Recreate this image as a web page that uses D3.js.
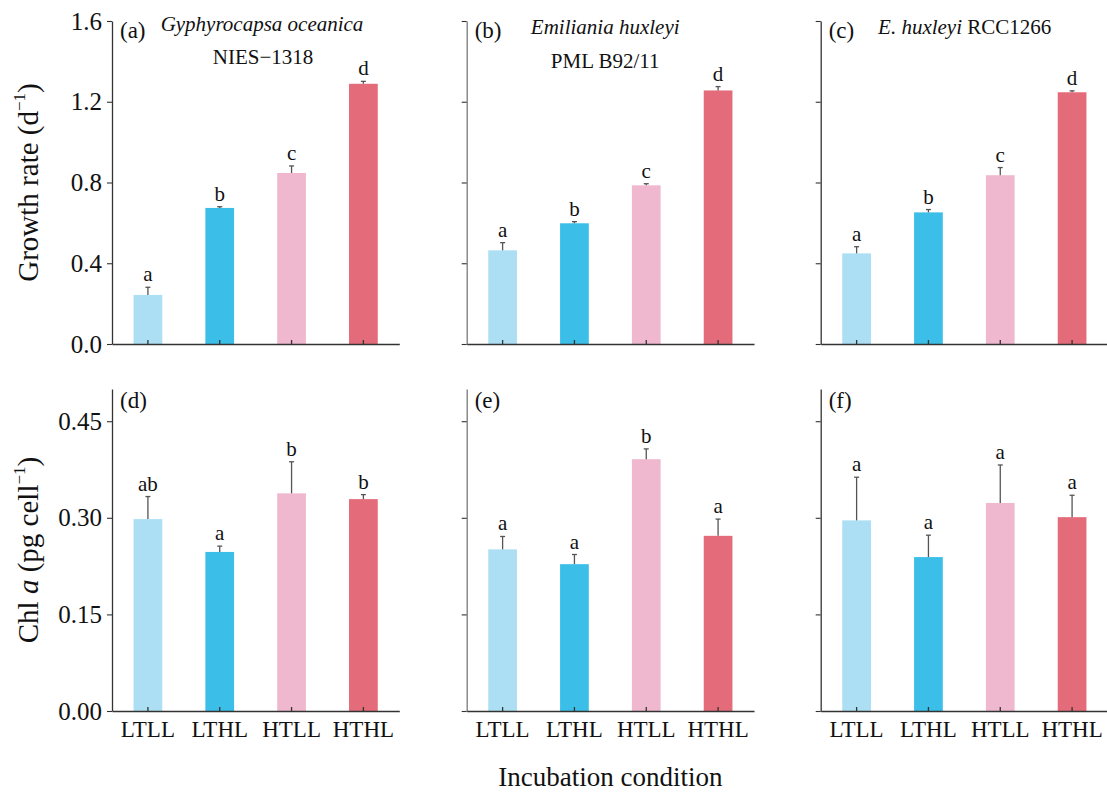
<!DOCTYPE html>
<html>
<head>
<meta charset="utf-8">
<script src="https://cdn.jsdelivr.net/npm/d3@7"></script>
<style>
  body { margin: 0; background: #fff; }
  svg { display: block; font-family: "Liberation Serif", "Times New Roman", serif; }
</style>
</head>
<body>
<div id="chart"></div>
<script>
// treatment order on every x axis
var conditions = ['LTLL', 'LTHL', 'HTLL', 'HTHL'];
var barColors = ['#addff4', '#3bbfe9', '#efb8ce', '#e46c7a'];

// growth rate (d-1), one row per strain
var growthMean = [
  [0.243, 0.674, 0.847, 1.289],
  [0.464, 0.598, 0.786, 1.256],
  [0.449, 0.652, 0.836, 1.247]
];
var growthSD = [
  [0.038, 0.006, 0.035, 0.012],
  [0.038, 0.008, 0.008, 0.019],
  [0.033, 0.014, 0.038, 0.007]
];
var growthLetters = [
  ['a', 'b', 'c', 'd'],
  ['a', 'b', 'c', 'd'],
  ['a', 'b', 'c', 'd']
];

// Chl a (pg cell-1)
var chlMean = [
  [0.298, 0.247, 0.338, 0.329],
  [0.251, 0.228, 0.391, 0.272],
  [0.296, 0.239, 0.323, 0.301]
];
var chlSD = [
  [0.035, 0.009, 0.049, 0.007],
  [0.020, 0.015, 0.016, 0.026],
  [0.067, 0.034, 0.059, 0.034]
];
var chlLetters = [
  ['ab', 'a', 'b', 'b'],
  ['a', 'a', 'b', 'a'],
  ['a', 'a', 'a', 'a']
];

var growthTicks = [0, 0.4, 0.8, 1.2, 1.6];
var chlTicks = [0, 0.15, 0.30, 0.45];

var panelLabels = ['(a)', '(b)', '(c)', '(d)', '(e)', '(f)'];

var width = 1107, height = 794;
var panelLeft = [112, 466.7, 820.7],
    panelWidth = 287.3;
var rows = [
  { top: 21, bottom: 344, max: 1.6, ticks: growthTicks, fmt: d3.format('.1f'),
    mean: growthMean, sd: growthSD, letters: growthLetters, labelY: 38 },
  { top: 389, bottom: 711, max: 0.5, ticks: chlTicks, fmt: d3.format('.2f'),
    mean: chlMean, sd: chlSD, letters: chlLetters, labelY: 408 }
];
// middle column's y axis is drawn lighter in the original
var yAxisColor = ['#333', '#7a7a7a', '#333'];

var svg = d3.select('#chart').append('svg')
  .attr('width', width)
  .attr('height', height);

rows.forEach(function(row, r) {
  var y = d3.scaleLinear().domain([0, row.max]).range([row.bottom, row.top]);

  panelLeft.forEach(function(left, c) {
    var x = d3.scaleBand()
      .domain(conditions)
      .range([left, left + panelWidth])
      .paddingInner(0.6)
      .paddingOuter(0.3);

    var data = conditions.map(function(k, i) {
      return { key: k, mean: row.mean[c][i], sd: row.sd[c][i], letter: row.letters[c][i], color: barColors[i] };
    });

    var g = svg.append('g').attr('class', 'panel');

    g.selectAll('rect.bar')
      .data(data).enter()
      .append('rect').attr('class', 'bar')
      .attr('x', function(d) { return x(d.key); })
      .attr('width', x.bandwidth())
      .attr('y', function(d) { return y(d.mean); })
      .attr('height', function(d) { return y(0) - y(d.mean); })
      .attr('fill', function(d) { return d.color; });

    // upper error bar only
    var err = g.selectAll('g.err')
      .data(data).enter()
      .append('g').attr('class', 'err')
      .attr('stroke', '#555')
      .attr('stroke-width', 1.3);
    err.append('line')
      .attr('x1', function(d) { return x(d.key) + x.bandwidth() / 2; })
      .attr('x2', function(d) { return x(d.key) + x.bandwidth() / 2; })
      .attr('y1', function(d) { return y(d.mean); })
      .attr('y2', function(d) { return y(d.mean + d.sd); });
    err.append('line')
      .attr('x1', function(d) { return x(d.key) + x.bandwidth() / 2 - 2.5; })
      .attr('x2', function(d) { return x(d.key) + x.bandwidth() / 2 + 2.5; })
      .attr('y1', function(d) { return y(d.mean + d.sd); })
      .attr('y2', function(d) { return y(d.mean + d.sd); });

    g.selectAll('text.sig')
      .data(data).enter()
      .append('text').attr('class', 'sig')
      .attr('x', function(d) { return x(d.key) + x.bandwidth() / 2; })
      .attr('y', function(d) { return y(d.mean + d.sd) - 6; })
      .attr('text-anchor', 'middle')
      .attr('font-size', 21)
      .attr('fill', '#111')
      .text(function(d) { return d.letter; });

    // y axis
    var yAxis = g.append('g')
      .attr('transform', 'translate(' + left + ',0)')
      .call(d3.axisLeft(y)
        .tickValues(row.ticks)
        .tickSize(5)
        .tickSizeOuter(0)
        .tickPadding(5)
        .tickFormat(c === 0 ? row.fmt : ''));
    yAxis.select('.domain').attr('stroke', yAxisColor[c]).attr('stroke-width', 1.3);
    yAxis.selectAll('.tick line').attr('stroke', '#333').attr('stroke-width', 1.1);
    yAxis.selectAll('.tick text')
      .attr('font-size', 25)
      .attr('font-family', '"Liberation Serif", "Times New Roman", serif')
      .attr('fill', '#111');

    // x axis, ticks pointing inward
    var xAxis = g.append('g')
      .attr('transform', 'translate(0,' + row.bottom + ')')
      .call(d3.axisBottom(x)
        .tickSize(-4)
        .tickSizeOuter(0)
        .tickPadding(10)
        .tickFormat(r === 1 ? null : ''));
    xAxis.select('.domain').attr('stroke', '#333').attr('stroke-width', 1.5);
    xAxis.selectAll('.tick line').attr('stroke', '#333').attr('stroke-width', 1.3);
    xAxis.selectAll('.tick text')
      .attr('font-size', 23)
      .attr('font-family', '"Liberation Serif", "Times New Roman", serif')
      .attr('fill', '#111');

    g.append('text')
      .attr('x', left + 8)
      .attr('y', row.labelY)
      .attr('font-size', 23)
      .attr('fill', '#111')
      .text(panelLabels[r * 3 + c]);
  });
});

// strain titles on the top row
var t1 = svg.append('g').attr('font-size', 21).attr('fill', '#111').attr('text-anchor', 'middle');
t1.append('text').attr('x', panelLeft[0] + 150).attr('y', 30.5)
  .attr('font-style', 'italic').text('Gyphyrocapsa oceanica');
t1.append('text').attr('x', panelLeft[0] + 151).attr('y', 64).text('NIES\u22121318');
t1.append('text').attr('x', panelLeft[1] + 138.5).attr('y', 34)
  .attr('font-style', 'italic').text('Emiliania huxleyi');
t1.append('text').attr('x', panelLeft[1] + 138.5).attr('y', 67.5).text('PML B92/11');
var t3 = t1.append('text').attr('x', panelLeft[2] + 144).attr('y', 33.5);
t3.append('tspan').attr('font-style', 'italic').text('E. huxleyi');
t3.append('tspan').text(' RCC1266');

// axis titles
function yTitle(cy, parts) {
  var t = svg.append('text')
    .attr('transform', 'translate(38,' + cy + ') rotate(-90)')
    .attr('text-anchor', 'middle')
    .attr('font-size', 29)
    .attr('fill', '#111');
  parts.forEach(function(p) {
    var s = t.append('tspan').text(p.text);
    if (p.italic) s.attr('font-style', 'italic');
    if (p.sup) s.attr('font-size', 17).attr('dy', '-0.75em');
    if (p.down) s.attr('dy', '0.44em');
  });
}
yTitle((rows[0].top + rows[0].bottom) / 2, [
  { text: 'Growth rate (d' }, { text: '\u22121', sup: true }, { text: ')', down: true }
]);
yTitle((rows[1].top + rows[1].bottom) / 2, [
  { text: 'Chl ' }, { text: 'a', italic: true }, { text: ' (pg cell' },
  { text: '\u22121', sup: true }, { text: ')', down: true }
]);

svg.append('text')
  .attr('x', panelLeft[1] + panelWidth / 2)
  .attr('y', 786)
  .attr('text-anchor', 'middle')
  .attr('font-size', 27)
  .attr('fill', '#111')
  .text('Incubation condition');
</script>
</body>
</html>
